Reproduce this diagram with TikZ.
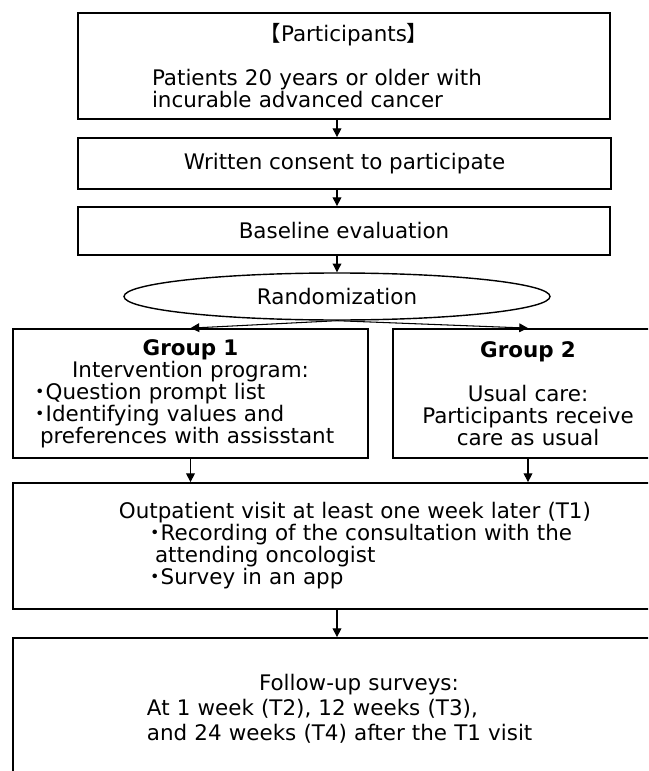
\documentclass[tikz,border=0pt]{standalone}
\usepackage{fontspec}
\setmainfont{DejaVu Sans}
\newfontfamily\jpfont[RawFeature=+halt]{Noto Sans CJK JP}
\usetikzlibrary{arrows.meta,shapes.geometric}

\begin{document}
\begin{tikzpicture}[
  box/.style={draw, line width=1pt, inner xsep=0pt, inner ysep=0pt, align=left},
  arr/.style={-{Triangle[width=5pt,length=5pt]}, line width=0.6pt},
  font=\fontsize{12.2}{12.5}\selectfont
]
\useasboundingbox (0,0) rectangle (12.96,-15.42);
\clip (0,0) rectangle (12.96,-15.42);
\node[box, minimum width=10.64cm, minimum height=2.12cm, text width=10.64cm] (part) at (6.88,-1.32)
  {\makebox[\linewidth]{{\jpfont 【}Participants{\jpfont 】}}\\[12.5pt]
   \hspace*{1.48cm}Patients 20 years or older with\\
   \hspace*{1.48cm}incurable advanced cancer};
\node[box, align=center, minimum width=10.66cm, minimum height=1.02cm] (consent) at (6.89,-3.27) {Written consent to participate};
\node[box, align=center, minimum width=10.64cm, minimum height=0.96cm] (base) at (6.88,-4.62) {Baseline evaluation};
\node[draw, ellipse, line width=0.8pt, inner sep=0pt, minimum width=8.52cm, minimum height=0.94cm] (rand) at (6.74,-5.93) {Randomization};
\node[box, inner xsep=0.44cm, text width=6.22cm, minimum height=2.58cm] (grp1) at (3.81,-7.87)
  {\makebox[\linewidth]{\bfseries Group 1}\\
   \makebox[\linewidth]{Intervention program:}\\
   {\jpfont ・}Question prompt list\\
   {\jpfont ・}Identifying values and\\
   \hspace*{0.1cm}preferences with assisstant};
\node[box, align=center, text width=5.40cm, minimum height=2.58cm] (grp2) at (10.56,-7.87)
  {{\bfseries Group 2}\\[12.5pt]
   Usual care:\\
   Participants receive\\
   care as usual};
\node[box, text width=13cm, minimum height=2.52cm] (visit) at (6.76,-10.92)
  {\hspace*{2.12cm}Outpatient visit at least one week later (T1)\\
   \hspace*{2.74cm}{\jpfont ・}Recording of the consultation with the\\
   \hspace*{2.84cm}attending oncologist\\
   \hspace*{2.74cm}{\jpfont ・}Survey in an app};
\node[box, text width=13cm, minimum height=2.84cm, font=\fontsize{12.2}{14.2}\selectfont] (follow) at (6.76,-14.18)
  {\hspace*{4.92cm}Follow-up surveys:\\
   \hspace*{2.68cm}At 1 week (T2), 12 weeks (T3),\\
   \hspace*{2.68cm}and 24 weeks (T4) after the T1 visit};
\draw[arr] (part.south -| rand.north) -- (consent.north -| rand.north);
\draw[arr] (consent.south -| rand.north) -- (base.north -| rand.north);
\draw[arr] (base.south -| rand.north) -- (rand.north);
\draw[arr] (rand.south) -- (grp1.north);
\draw[arr] (rand.south) -- (grp2.north);
\draw[arr] (grp1.south) -- (grp1.south |- visit.north);
\draw[arr] (grp2.south) -- (grp2.south |- visit.north);
\draw[arr] (visit.south -| rand.south) -- (follow.north -| rand.south);
\end{tikzpicture}
\end{document}
